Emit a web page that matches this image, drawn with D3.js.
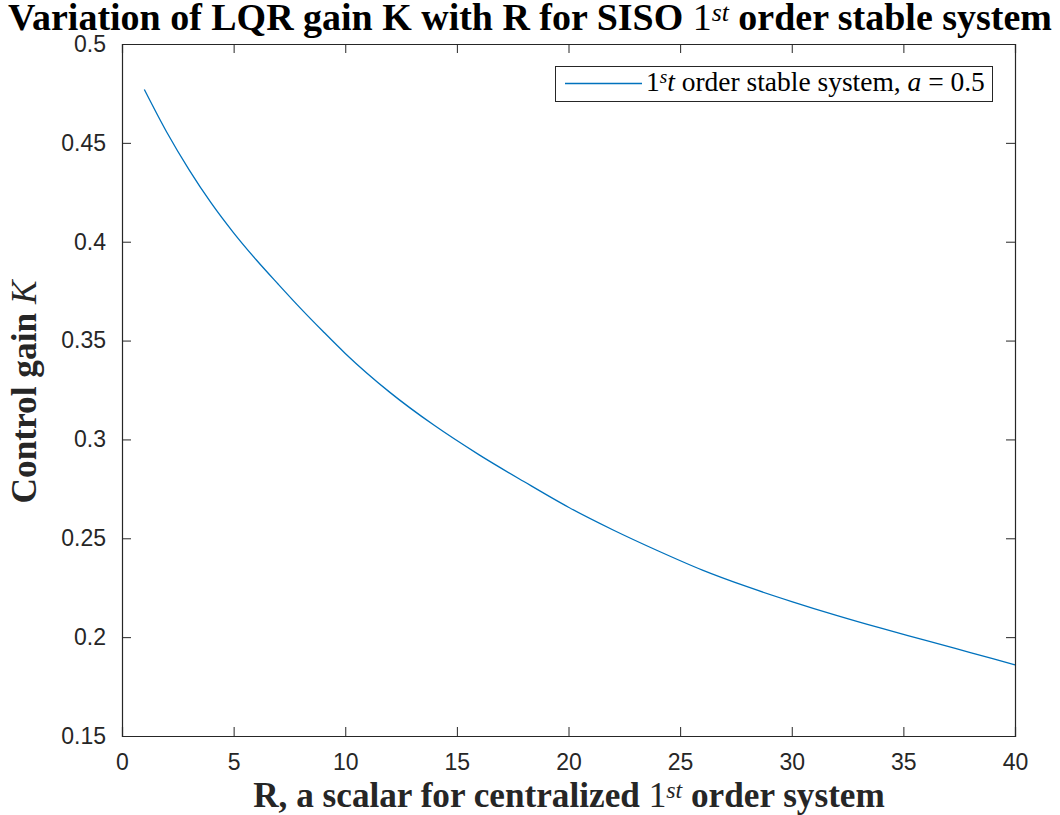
<!DOCTYPE html>
<html>
<head>
<meta charset="utf-8">
<script src="https://cdn.jsdelivr.net/npm/d3@7"></script>
<style>
  body { margin: 0; background: white; }
  svg { display: block; }
</style>
</head>
<body>
<div id="chart"></div>
<script>
// Data
const R = [1, 2, 3, 4, 5, 6, 7, 8, 9, 10, 12, 14, 16, 18, 20, 22, 24, 26, 28, 30, 32, 34, 36, 38, 40];
const K = [0.477, 0.4555, 0.4365, 0.4195, 0.4045, 0.391, 0.3785, 0.3663, 0.3547, 0.3435, 0.3238, 0.307, 0.2922, 0.2787, 0.2657, 0.2542, 0.2437, 0.2339, 0.2255, 0.218, 0.211, 0.2045, 0.1984, 0.1922, 0.186];
const xTicks = [0, 5, 10, 15, 20, 25, 30, 35, 40];
const yTicks = [0.15, 0.2, 0.25, 0.3, 0.35, 0.4, 0.45, 0.5];

const W = 1060, H = 815;
const margin = { top: 44, right: 45, bottom: 79, left: 122 };
const axisColor = "#262626";
const lineColor = "#0072BD";
const serif = "'Liberation Serif', 'DejaVu Serif', serif";
const sans = "'Liberation Sans', Arial, sans-serif";

const svg = d3.select("#chart").append("svg").attr("width", W).attr("height", H);

const x = d3.scaleLinear().domain([0, 40]).range([margin.left, W - margin.right]);
const y = d3.scaleLinear().domain([0.15, 0.5]).range([H - margin.bottom, margin.top]);

// fit a text element to a target width by scaling its font-size
function fitWidth(sel, target) {
  const fs = parseFloat(sel.attr("font-size"));
  const w = sel.node().getComputedTextLength();
  sel.attr("font-size", fs * target / w);
}

// curve
const line = d3.line().curve(d3.curveMonotoneX).x((d, i) => x(R[i])).y(d => y(d));
svg.append("path").datum(K)
  .attr("fill", "none").attr("stroke", lineColor).attr("stroke-width", 1.3)
  .attr("d", line);

// axes with inward ticks on all four sides
const tickLen = 9;
const gx = svg.append("g").attr("transform", `translate(0,${y(0.15)})`)
  .call(d3.axisBottom(x).tickValues(xTicks).tickSize(-tickLen).tickPadding(18).tickFormat(d3.format("d")));
const gxTop = svg.append("g").attr("transform", `translate(0,${y(0.5)})`)
  .call(d3.axisTop(x).tickValues(xTicks).tickSize(-tickLen).tickFormat(""));
const gy = svg.append("g").attr("transform", `translate(${x(0)},0)`)
  .call(d3.axisLeft(y).tickValues(yTicks).tickSize(-tickLen).tickPadding(16).tickFormat(d => String(+d.toFixed(2))));
const gyRight = svg.append("g").attr("transform", `translate(${x(40)},0)`)
  .call(d3.axisRight(y).tickValues(yTicks).tickSize(-tickLen).tickFormat(""));

[gx, gxTop, gy, gyRight].forEach(g => {
  g.select(".domain").attr("stroke", axisColor).attr("stroke-width", 1.2);
  g.selectAll(".tick line").attr("stroke", axisColor).attr("stroke-width", 1);
  g.selectAll(".tick text").attr("fill", axisColor).attr("font-family", sans).attr("font-size", 23);
});
gx.selectAll(".tick text").attr("dy", "0.71em");

// title
const title = svg.append("text")
  .attr("x", 530).attr("y", 30).attr("text-anchor", "middle")
  .attr("font-family", serif).attr("font-weight", "bold").attr("font-size", 24).attr("fill", "black");
title.append("tspan").text("Variation of LQR gain K with R for SISO ");
title.append("tspan").attr("font-weight", "normal").text("1");
title.append("tspan").attr("font-weight", "normal").attr("font-style", "italic").attr("font-size", "0.68em").attr("dy", -9).text("st");
title.append("tspan").attr("dy", 9).text(" order stable system");
fitWidth(title, 1044);

// x label
const xl = svg.append("text")
  .attr("x", 569).attr("y", 807).attr("text-anchor", "middle")
  .attr("font-family", serif).attr("font-weight", "bold").attr("font-size", 24).attr("fill", axisColor);
xl.append("tspan").text("R, a scalar for centralized ");
xl.append("tspan").attr("font-weight", "normal").text("1");
xl.append("tspan").attr("font-weight", "normal").attr("font-style", "italic").attr("font-size", "0.68em").attr("dy", -9).text("st");
xl.append("tspan").attr("dy", 9).text(" order system");
fitWidth(xl, 632);

// y label
const yl = svg.append("text")
  .attr("transform", "translate(36,392) rotate(-90)").attr("text-anchor", "middle")
  .attr("font-family", serif).attr("font-weight", "bold").attr("font-size", 24).attr("fill", axisColor);
yl.append("tspan").text("Control gain ");
yl.append("tspan").attr("font-weight", "normal").attr("font-style", "italic").text("K");
fitWidth(yl, 223);

// legend
const lg = svg.append("g");
lg.append("rect").attr("x", 555.5).attr("y", 66.5).attr("width", 437).attr("height", 35)
  .attr("fill", "white").attr("stroke", axisColor).attr("stroke-width", 1);
lg.append("line").attr("x1", 565).attr("x2", 642).attr("y1", 83.5).attr("y2", 83.5)
  .attr("stroke", lineColor).attr("stroke-width", 1.3);
const lt = lg.append("text").attr("x", 646).attr("y", 91)
  .attr("font-family", serif).attr("font-size", 21).attr("fill", "black");
lt.append("tspan").text("1");
lt.append("tspan").attr("font-style", "italic").attr("font-size", "0.7em").attr("dy", -8).text("s");
lt.append("tspan").attr("font-style", "italic").attr("dy", 8).text("t");
lt.append("tspan").text(" order stable system, ");
lt.append("tspan").attr("font-style", "italic").text("a");
lt.append("tspan").text(" = 0.5");
fitWidth(lt, 339);
</script>
</body>
</html>
